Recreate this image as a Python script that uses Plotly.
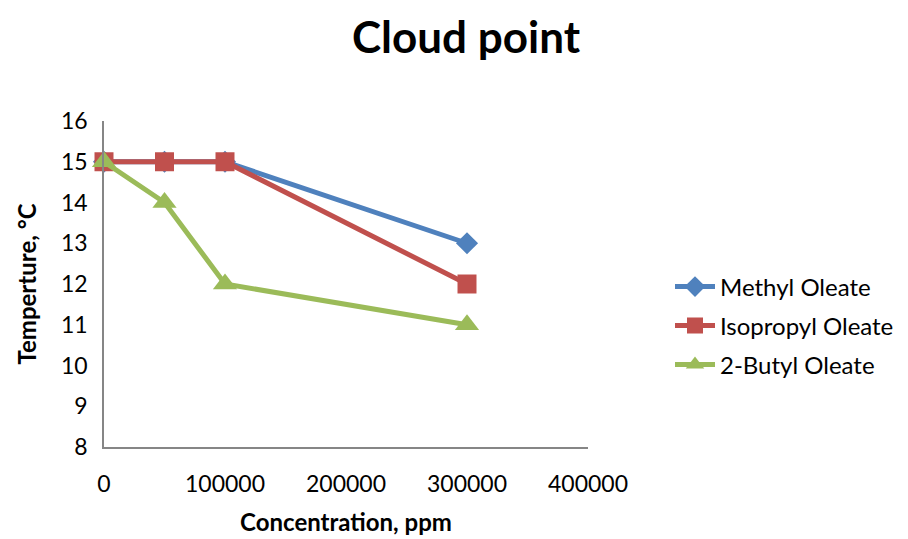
import plotly.graph_objects as go

# Cloud point data (concentration in ppm, temperature in °C)
concentration = [0, 50000, 100000, 300000]
methyl_oleate = [15, 15, 15, 13]
isopropyl_oleate = [15, 15, 15, 12]
butyl_oleate = [15, 14, 12, 11]

x_ticks = [0, 100000, 200000, 300000, 400000]
y_ticks = [8, 9, 10, 11, 12, 13, 14, 15, 16]

FONT = "Lato"

fig = go.Figure()

series = [
    ("Methyl Oleate", methyl_oleate, "#4F81BD", "diamond", 17, "legend"),
    ("Isopropyl Oleate", isopropyl_oleate, "#C0504D", "square", 19, "legend2"),
    ("2-Butyl Oleate", butyl_oleate, "#9BBB59", "triangle-up", 21, "legend3"),
]

for name, ys, color, symbol, size, leg in series:
    fig.add_trace(go.Scatter(
        x=concentration, y=ys, name=name, mode="lines+markers",
        line=dict(color=color, width=5),
        marker=dict(symbol=symbol, size=size, color=color, line=dict(width=0)),
        cliponaxis=False, legend=leg, showlegend=True,
    ))

# each legend entry gets its own box so rows can be spaced freely
legend_common = dict(
    font=dict(family=FONT, size=24, color="#000000"),
    bgcolor="rgba(0,0,0,0)", xref="paper", yref="paper",
    xanchor="left", yanchor="middle", x=(670 - 104) / 484,
    itemwidth=40,
)
row_y = [287, 326, 365]
plot_left, plot_right = 104, 588
plot_top, plot_bottom = 121, 447
def paper_y(py):
    return (plot_bottom - py) / (plot_bottom - plot_top)

fig.update_layout(
    width=908, height=539,
    showlegend=True,
    margin=dict(l=plot_left, r=908 - plot_right, t=plot_top, b=539 - plot_bottom,
                autoexpand=False),
    paper_bgcolor="white", plot_bgcolor="white",
    font=dict(family=FONT, color="#000000"),
    title=dict(
        text="<b>Cloud point</b>", x=466 / 908, xref="container", xanchor="center",
        y=1 - 38 / 539, yref="container", yanchor="middle",
        font=dict(family=FONT, size=44, color="#000000"),
    ),
    legend=dict(**legend_common, y=paper_y(row_y[0])),
    legend2=dict(**legend_common, y=paper_y(row_y[1])),
    legend3=dict(**legend_common, y=paper_y(row_y[2])),
    xaxis=dict(
        range=[0, 400000], tickvals=x_ticks, ticktext=[str(v) for v in x_ticks],
        showgrid=False, zeroline=False, showline=True, linecolor="#868686",
        linewidth=1.5, ticks="", ticklen=0, tickfont=dict(size=23),
        title=dict(text="<b>Concentration, ppm</b>", font=dict(size=24), standoff=18),
        ticklabelstandoff=16, automargin=False,
    ),
    yaxis=dict(
        range=[8, 16], tickvals=y_ticks, showgrid=False, zeroline=False,
        showline=True, linecolor="#868686", linewidth=1.5, ticks="",
        tickfont=dict(size=23),
        title=dict(text="<b>Temperture, °C</b>", font=dict(size=24), standoff=18),
        ticklabelstandoff=10, automargin=False,
    ),
)

fig.write_html("out.html")
